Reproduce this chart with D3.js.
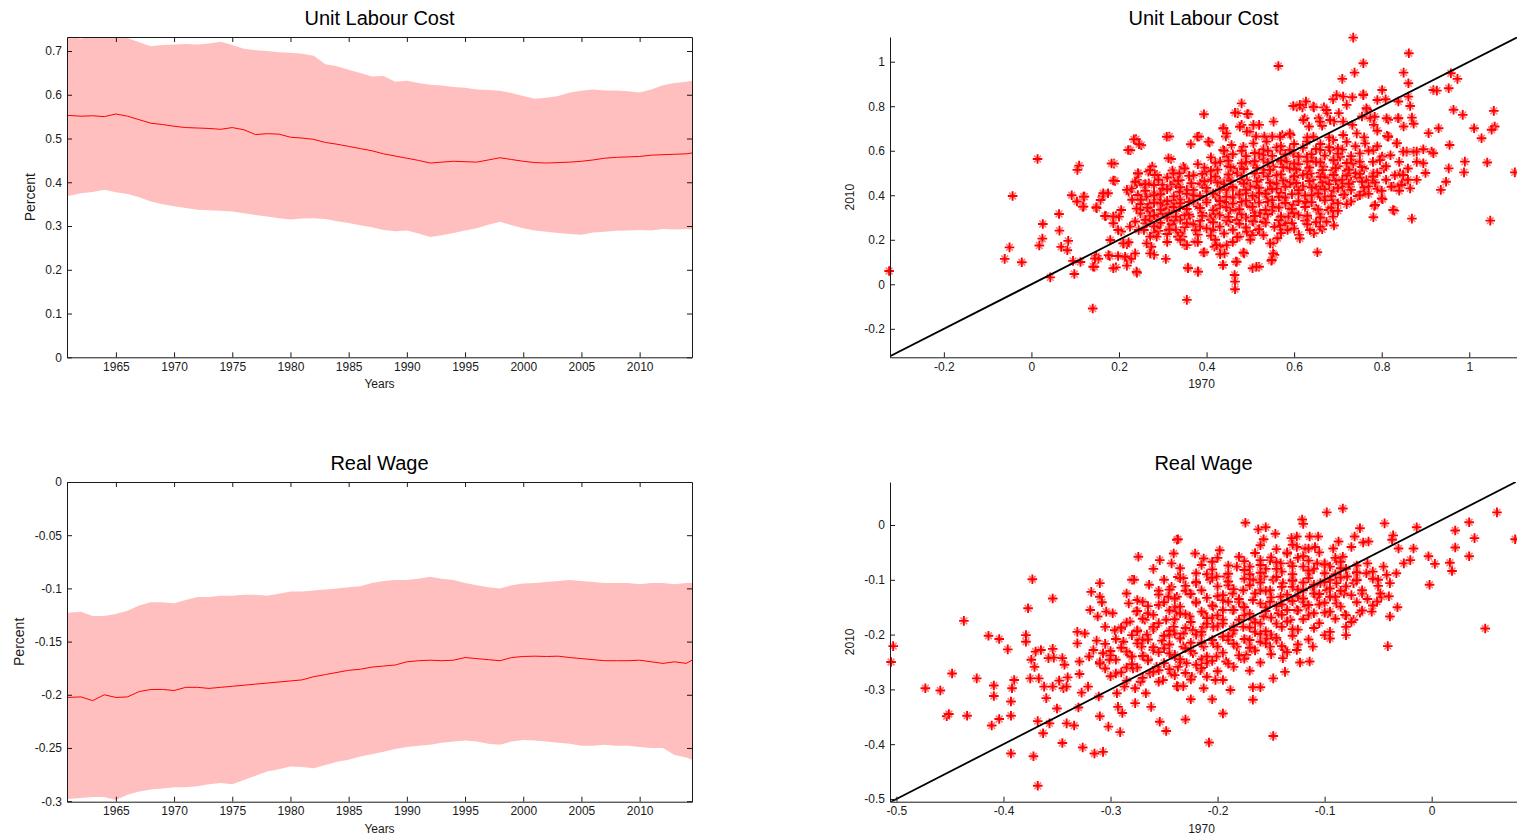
<!DOCTYPE html>
<html>
<head>
<meta charset="utf-8">
<script src="https://cdn.jsdelivr.net/npm/d3@7"></script>
<style>
  html, body { margin: 0; padding: 0; background: #fff; }
  svg { display: block; font-family: "Liberation Sans", Arial, sans-serif; }
  .tick text { fill: #1a1a1a; font-size: 12px; }
  .tick line, .domain { stroke: #1a1a1a; }
</style>
</head>
<body>
<svg id="fig" width="1517" height="840"></svg>
<script>
// ---- time series (years, mean and band limits) ----
const years = [1960.8,1962,1963,1964,1965,1966,1967,1968,1969,1970,1971,1972,1973,1974,1975,1976,1977,1978,1979,1980,1981,1982,1983,1984,1985,1986,1987,1988,1989,1990,1991,1992,1993,1994,1995,1996,1997,1998,1999,2000,2001,2002,2003,2004,2005,2006,2007,2008,2009,2010,2011,2012,2013,2014,2014.5];

const ulcUpper = [0.735,0.728,0.74,0.735,0.74,0.73,0.72,0.711,0.714,0.715,0.716,0.715,0.717,0.721,0.714,0.705,0.702,0.700,0.697,0.696,0.694,0.689,0.670,0.665,0.657,0.650,0.642,0.643,0.630,0.632,0.627,0.623,0.621,0.618,0.616,0.612,0.611,0.609,0.604,0.597,0.591,0.593,0.597,0.605,0.609,0.612,0.610,0.610,0.608,0.605,0.612,0.622,0.627,0.630,0.632];
const ulcLower = [0.368,0.375,0.378,0.383,0.377,0.373,0.366,0.356,0.350,0.345,0.341,0.337,0.336,0.335,0.333,0.329,0.325,0.322,0.318,0.315,0.317,0.318,0.316,0.311,0.307,0.302,0.297,0.291,0.288,0.290,0.283,0.275,0.279,0.284,0.290,0.295,0.303,0.310,0.302,0.295,0.290,0.287,0.284,0.282,0.280,0.285,0.287,0.289,0.290,0.291,0.290,0.293,0.292,0.293,0.292];
const ulcMean  = [0.553,0.551,0.552,0.550,0.556,0.551,0.543,0.535,0.532,0.528,0.525,0.524,0.523,0.521,0.525,0.520,0.509,0.511,0.510,0.503,0.501,0.498,0.491,0.487,0.482,0.477,0.472,0.465,0.460,0.455,0.450,0.444,0.446,0.448,0.447,0.446,0.451,0.456,0.452,0.448,0.445,0.444,0.445,0.446,0.448,0.451,0.455,0.457,0.458,0.459,0.462,0.463,0.464,0.465,0.467];

const rwUpper = [-0.123,-0.122,-0.126,-0.126,-0.124,-0.121,-0.116,-0.113,-0.113,-0.114,-0.111,-0.108,-0.108,-0.107,-0.107,-0.106,-0.106,-0.107,-0.105,-0.103,-0.103,-0.102,-0.101,-0.100,-0.099,-0.098,-0.095,-0.093,-0.092,-0.092,-0.091,-0.089,-0.091,-0.092,-0.095,-0.097,-0.099,-0.100,-0.097,-0.0955,-0.095,-0.094,-0.093,-0.092,-0.093,-0.094,-0.095,-0.095,-0.095,-0.096,-0.095,-0.095,-0.096,-0.095,-0.095];
const rwLower = [-0.298,-0.297,-0.296,-0.296,-0.299,-0.294,-0.291,-0.289,-0.288,-0.287,-0.287,-0.286,-0.284,-0.283,-0.284,-0.280,-0.276,-0.272,-0.270,-0.2675,-0.268,-0.269,-0.266,-0.263,-0.261,-0.258,-0.256,-0.2535,-0.251,-0.249,-0.248,-0.247,-0.245,-0.244,-0.243,-0.244,-0.246,-0.247,-0.244,-0.2425,-0.243,-0.244,-0.245,-0.246,-0.248,-0.248,-0.247,-0.248,-0.248,-0.249,-0.250,-0.250,-0.2565,-0.259,-0.261];
const rwMean  = [-0.2025,-0.202,-0.2055,-0.200,-0.2025,-0.202,-0.197,-0.195,-0.195,-0.196,-0.193,-0.193,-0.194,-0.193,-0.192,-0.191,-0.190,-0.189,-0.188,-0.187,-0.186,-0.183,-0.181,-0.179,-0.177,-0.176,-0.174,-0.173,-0.172,-0.169,-0.168,-0.1675,-0.168,-0.1675,-0.165,-0.166,-0.167,-0.168,-0.165,-0.164,-0.1637,-0.164,-0.1637,-0.165,-0.166,-0.167,-0.168,-0.168,-0.168,-0.1675,-0.169,-0.1705,-0.169,-0.1705,-0.1675];

// ---- tick values ----
const yearTicks = [1965,1970,1975,1980,1985,1990,1995,2000,2005,2010];
const ulcTicks = [0,0.1,0.2,0.3,0.4,0.5,0.6,0.7];
const rwTicks = [-0.3,-0.25,-0.2,-0.15,-0.1,-0.05,0];
const ulcScatterTicks = [-0.2,0,0.2,0.4,0.6,0.8,1];
const rwScatterTicks = [-0.5,-0.4,-0.3,-0.2,-0.1,0];

// ---- cross-section: 1970 value (x) against 2010 value (y) ----
const ulcScatter = [
[-0.325,0.06],[-0.043,0.397],[-0.05,0.166],[-0.061,0.114],[-0.022,0.099],[0.014,0.563],[0.026,0.271],[0.025,0.205],[0.018,0.174],[0.043,0.031],
[0.063,0.316],[0.064,0.241],[0.068,0.168],[0.084,0.195],[0.082,0.153],[0.092,0.40],[0.104,0.372],[0.109,0.533],[0.105,0.514],[0.121,0.394],
[0.117,0.349],[0.095,0.105],[0.098,0.046],[0.112,0.10],[0.14,-0.109],[0.144,0.079],[0.148,0.127],[0.153,0.115],[0.149,0.342],[0.158,0.379],
[0.163,0.398],[0.175,0.409],[0.17,0.307],[0.18,0.199],[0.179,0.127],[0.189,0.542],[0.191,0.464],[0.193,0.307],[0.2,0.304],[0.187,0.274],
[0.205,0.334],[0.205,0.237],[0.198,0.127],[0.193,0.076],[0.21,0.184],[0.218,0.18],[0.222,0.189],[0.218,0.115],[0.218,0.084],[0.228,0.114],
[0.226,0.602],[0.239,0.652],[0.251,0.625],[0.222,0.416],[0.229,0.431],[0.241,0.469],[0.243,0.499],[0.241,0.454],[0.243,0.401],[0.249,0.361],
[0.249,0.319],[0.237,0.282],[0.245,0.244],[0.257,0.244],[0.26,0.274],[0.267,0.506],[0.276,0.529],[0.268,0.454],[0.28,0.446],[0.287,0.491],
[0.299,0.446],[0.28,0.409],[0.287,0.379],[0.295,0.364],[0.271,0.334],[0.276,0.304],[0.28,0.229],[0.271,0.214],[0.274,0.169],[0.28,0.132],
[0.241,0.052],[0.307,0.114],[0.315,0.664],[0.319,0.563],[0.322,0.511],[0.326,0.461],[0.338,0.499],[0.307,0.349],[0.315,0.319],[0.322,0.274],
[0.33,0.244],[0.333,0.379],[0.338,0.416],[0.341,0.229],
[0.735,1.108],[0.862,1.038],[0.758,0.993],[0.564,0.981],[0.738,0.951],[0.71,0.923],[0.85,0.951],[0.861,0.903],[0.958,0.948],[0.973,0.923],
[0.953,0.881],[0.918,0.873],[0.926,0.87],[0.801,0.873],[0.758,0.854],[0.712,0.843],[0.733,0.84],[0.689,0.831],[0.79,0.828],[0.809,0.831],
[0.861,0.843],[0.838,0.821],[0.964,0.784],[0.985,0.761],[1.056,0.779],[1.011,0.701],[1.058,0.709],[1.051,0.694],[1.028,0.656],[1.104,0.503],
[0.99,0.551],[0.988,0.503],[1.041,0.547],[0.953,0.521],[0.955,0.626],[1.048,0.286],[0.93,0.701],[0.907,0.679],[0.873,0.721],[0.869,0.749],
[0.85,0.709],[0.865,0.801],[0.838,0.746],[0.815,0.739],[0.812,0.667],[0.835,0.634],[0.857,0.596],[0.873,0.596],[0.88,0.596],[0.895,0.607],
[0.914,0.596],[0.918,0.589],[0.895,0.544],[0.88,0.469],[0.865,0.431],[0.846,0.454],[0.842,0.499],[0.827,0.439],[0.801,0.574],[0.805,0.521],
[0.78,0.469],[0.947,0.461],[0.935,0.424],[0.802,0.382],[0.783,0.352],[0.829,0.331],[0.781,0.301],[0.869,0.295],[0.763,0.412],[0.815,0.664],
[0.653,0.144],[0.691,0.264],[0.689,0.331],[0.664,0.247],[0.645,0.229],[0.63,0.297],[0.611,0.222],[0.6,0.319],[0.58,0.274],[0.573,0.244],
[0.551,0.184],[0.555,0.132],[0.548,0.106],[0.52,0.079],[0.505,0.072],[0.486,0.139],[0.467,0.102],[0.464,0.042],[0.465,0.012],[0.465,-0.022],
[0.437,0.087],[0.441,0.139],[0.43,0.169],[0.418,0.169],[0.395,0.144],[0.38,0.057],[0.357,0.075],[0.355,-0.07],[0.35,0.177],[0.335,0.214],
[0.475,0.214],[0.498,0.229],[0.517,0.244],[0.532,0.289],[0.562,0.207],[0.394,0.764],[0.48,0.813],[0.496,0.764],[0.471,0.769],[0.52,0.716],
[0.439,0.701],[0.553,0.731],[0.383,0.664],[0.407,0.637],[0.444,0.664],[0.48,0.716],[0.498,0.686],[0.513,0.664],[0.532,0.664],[0.55,0.664],
[0.573,0.671],[0.592,0.671],[0.606,0.798],[0.619,0.795],[0.627,0.821],[0.645,0.795],[0.668,0.795],[0.676,0.769],[0.702,0.769],[0.656,0.746],
[0.624,0.746],[0.634,0.709],[0.664,0.712],[0.691,0.731],[0.712,0.731],[0.733,0.716],[0.755,0.754],[0.774,0.746],[0.767,0.784],[0.782,0.716],
[0.465,0.771],[0.493,0.765],[0.598,0.801],[0.758,0.85],[0.309,0.663],[0.234,0.651],[0.246,0.629],[0.221,0.603],[0.183,0.543],[0.187,0.466],
[0.313,0.566],[0.364,0.629],[0.379,0.663],[0.404,0.641],[0.438,0.701],[0.446,0.678],[0.826,0.334],[0.785,0.356],[0.8,0.386],[0.758,0.416],
[0.822,0.438],[0.845,0.446],[0.849,0.491],[0.849,0.596],[0.834,0.633],[0.815,0.663],[0.838,0.746],[0.811,0.746],[0.784,0.753],[0.765,0.791],
[0.72,0.806],[0.697,0.85],[0.674,0.783],[0.644,0.798],[0.613,0.806],[0.659,0.731],[0.682,0.738],[0.621,0.738],[0.59,0.678],[0.568,0.663],
[0.537,0.641],[0.507,0.716],[0.492,0.686],[0.476,0.708],[0.457,0.626],[0.438,0.603],[0.484,0.618],[0.507,0.633],[0.526,0.581],[0.568,0.603],
[0.598,0.588],[0.629,0.641],[0.644,0.663],[0.689,0.648],[0.712,0.671],[0.743,0.678],[0.762,0.633],[0.781,0.603],[0.796,0.558],[0.781,0.498],
[0.765,0.468],[0.727,0.438],[0.712,0.401],[0.689,0.378],[0.678,0.334],[0.689,0.304],[0.674,0.281],[0.659,0.259],[0.636,0.244],[0.613,0.206],
[0.587,0.304],[0.568,0.266],[0.545,0.184],[0.552,0.139],[0.549,0.109],[0.514,0.079],[0.469,0.101],[0.484,0.143],[0.438,0.087],[0.431,0.135],
[0.446,0.176],[0.423,0.176],[0.393,0.143],[0.381,0.057],[0.358,0.072],[0.374,0.191],[0.355,0.176],[0.335,0.214],[0.313,0.244],[0.286,0.214],
[0.271,0.139],[0.263,0.184],[0.237,0.139],[0.24,0.057],[0.214,0.124],[0.187,0.072],[0.176,0.131],[0.145,0.116],[0.141,0.079],[0.21,0.184],
[0.198,0.244],[0.187,0.304],[0.168,0.307],[0.148,0.346],[0.164,0.409],[0.119,0.394],[0.119,0.349],[0.218,0.424],[0.237,0.461],[0.244,0.498],
[0.271,0.513],[0.282,0.491],[0.256,0.446],[0.263,0.394],[0.248,0.334],[0.225,0.259],[0.263,0.274],[0.286,0.304],[0.305,0.364],[0.294,0.409],
[0.317,0.438],[0.324,0.498],[0.347,0.528],[0.339,0.468],[0.355,0.424],[0.339,0.349],[0.362,0.304],[0.385,0.259],[0.415,0.244],[0.408,0.304],
[0.4,0.379],[0.385,0.453],[0.4,0.506],[0.431,0.551],[0.446,0.573],[0.461,0.521],[0.431,0.461],[0.446,0.424],[0.431,0.356],[0.454,0.334],
[0.469,0.289],[0.492,0.236],[0.507,0.281],[0.522,0.319],[0.492,0.364],[0.476,0.409],[0.492,0.468],[0.484,0.528],[0.507,0.543],[0.53,0.513],
[0.514,0.438],[0.537,0.394],[0.552,0.349],[0.575,0.379],[0.56,0.453],[0.552,0.528],[0.583,0.551],[0.606,0.513],[0.591,0.453],[0.613,0.424],
[0.598,0.356],[0.629,0.364],[0.644,0.438],[0.636,0.498],[0.644,0.558],[0.667,0.528],[0.674,0.468],[0.689,0.513],[0.705,0.573],[0.682,0.603],
[0.659,0.603],[0.629,0.573],[0.72,0.498],[0.735,0.543],[0.75,0.588],[0.743,0.483],[0.705,0.453],[0.659,0.394],
[0.40,0.42],[0.42,0.40],[0.44,0.45],[0.46,0.43],[0.48,0.46],[0.50,0.44],[0.52,0.47],[0.54,0.42],[0.56,0.49],[0.58,0.46],
[0.60,0.48],[0.62,0.44],[0.64,0.47],[0.66,0.50],[0.68,0.45],[0.45,0.48],[0.47,0.50],[0.49,0.41],[0.51,0.39],[0.53,0.50],
[0.55,0.45],[0.57,0.41],[0.59,0.52],[0.61,0.41],[0.63,0.51],[0.65,0.43],[0.67,0.48],[0.69,0.49],[0.71,0.47],[0.41,0.47],
[0.43,0.38],[0.39,0.45],[0.37,0.40],[0.36,0.37],[0.38,0.35],[0.34,0.38],[0.33,0.33],[0.35,0.31],[0.32,0.36],[0.30,0.34],
[0.31,0.30],[0.29,0.27],[0.28,0.31],[0.27,0.36],[0.42,0.34],[0.44,0.37],[0.46,0.39],[0.48,0.37],[0.50,0.35],[0.52,0.41],
[0.54,0.37],[0.56,0.43],[0.58,0.39],[0.60,0.45],[0.62,0.49],[0.64,0.40],[0.66,0.44],[0.70,0.53],[0.72,0.51],[0.74,0.50],
[0.76,0.52],[0.78,0.55],[0.73,0.56],[0.69,0.56],[0.65,0.55],[0.61,0.54],[0.57,0.55],[0.53,0.56],[0.49,0.55],[0.45,0.53],
[0.41,0.51],[0.37,0.49],[0.33,0.45],[0.30,0.43],[0.28,0.40],[0.26,0.42],[0.25,0.38],[0.27,0.33],[0.29,0.24],[0.32,0.27],
[0.34,0.29],[0.37,0.27],[0.39,0.32],[0.41,0.29],[0.43,0.31],[0.45,0.28],[0.47,0.33],[0.49,0.30],[0.51,0.32],[0.53,0.28],
[0.55,0.33],[0.57,0.30],[0.59,0.34],[0.61,0.31],[0.63,0.37],[0.65,0.34],[0.67,0.39],[0.69,0.42],[0.71,0.44],[0.73,0.46],
[0.75,0.48],[0.77,0.44],[0.79,0.50],[0.81,0.47],
[0.31,0.226],[0.345,0.214],[0.38,0.223],[0.41,0.218],[0.44,0.228],[0.47,0.212],[0.505,0.221],
[0.285,0.254],[0.315,0.246],[0.35,0.257],[0.375,0.243],[0.40,0.251],[0.43,0.259],[0.46,0.245],[0.49,0.255],[0.52,0.248],[0.555,0.258],[0.585,0.244],
[0.265,0.283],[0.295,0.276],[0.325,0.288],[0.355,0.274],[0.385,0.285],[0.415,0.279],[0.445,0.287],[0.475,0.272],[0.505,0.284],[0.535,0.277],[0.565,0.289],[0.595,0.275],[0.625,0.286],[0.65,0.279],
[0.27,0.306],[0.30,0.317],[0.33,0.304],[0.36,0.313],[0.39,0.308],[0.42,0.318],[0.45,0.303],[0.48,0.314],[0.51,0.307],[0.54,0.316],[0.57,0.305],[0.60,0.319],[0.63,0.308],[0.66,0.314],
[0.265,0.344],[0.295,0.335],[0.325,0.347],[0.355,0.338],[0.385,0.343],[0.415,0.333],[0.445,0.346],[0.475,0.337],[0.505,0.348],[0.535,0.334],[0.565,0.345],[0.595,0.339],[0.625,0.347],[0.655,0.336],[0.685,0.344],
[0.28,0.366],[0.31,0.375],[0.34,0.364],[0.37,0.377],[0.40,0.368],[0.43,0.374],[0.46,0.363],[0.49,0.376],[0.52,0.367],[0.55,0.378],[0.58,0.365],[0.61,0.373],[0.64,0.369],[0.67,0.377],[0.70,0.364],[0.73,0.372],
[0.295,0.404],[0.325,0.395],[0.355,0.406],[0.385,0.397],[0.415,0.408],[0.445,0.394],[0.475,0.403],[0.505,0.398],[0.535,0.407],[0.565,0.393],[0.595,0.405],[0.625,0.399],[0.655,0.408],[0.685,0.396],[0.715,0.404],[0.745,0.397],[0.77,0.406],
[0.31,0.427],[0.34,0.436],[0.37,0.424],[0.40,0.433],[0.43,0.426],[0.46,0.437],[0.49,0.425],[0.52,0.434],[0.55,0.428],[0.58,0.438],[0.61,0.423],[0.64,0.435],[0.67,0.427],[0.70,0.433],[0.73,0.424],[0.76,0.436],[0.79,0.429],
[0.335,0.465],[0.365,0.454],[0.395,0.463],[0.425,0.457],[0.455,0.466],[0.485,0.453],[0.515,0.462],[0.545,0.456],[0.575,0.467],[0.605,0.455],[0.635,0.464],[0.665,0.458],[0.695,0.466],[0.725,0.452],[0.755,0.461],[0.785,0.457],
[0.36,0.487],[0.39,0.496],[0.42,0.484],[0.45,0.493],[0.48,0.488],[0.51,0.497],[0.54,0.485],[0.57,0.494],[0.60,0.486],[0.63,0.495],[0.66,0.483],[0.69,0.492],[0.72,0.489],[0.75,0.496],[0.78,0.484],
[0.395,0.524],[0.425,0.515],[0.455,0.527],[0.485,0.518],[0.515,0.523],[0.545,0.514],[0.575,0.526],[0.605,0.517],[0.635,0.525],[0.665,0.513],[0.695,0.522],[0.725,0.516],[0.755,0.527],
[0.42,0.546],[0.45,0.555],[0.48,0.544],[0.51,0.553],[0.54,0.547],[0.57,0.556],[0.60,0.543],[0.63,0.552],[0.66,0.548],[0.69,0.557],[0.72,0.545],[0.75,0.551],
[0.46,0.584],[0.49,0.575],[0.52,0.586],[0.55,0.577],[0.58,0.583],[0.61,0.574],[0.64,0.585],[0.67,0.578],[0.70,0.587],[0.73,0.576],
[0.53,0.607],[0.56,0.615],[0.59,0.604],[0.62,0.613],[0.65,0.608],[0.68,0.616],[0.71,0.605],
[0.79,0.62],[0.82,0.58],[0.84,0.55],[0.86,0.52],[0.83,0.49],[0.81,0.53],[0.77,0.60],[0.74,0.62],[0.76,0.66],[0.79,0.69],
[0.72,0.64],[0.70,0.61],[0.68,0.66],[0.66,0.63],[0.63,0.66],[0.60,0.63],[0.57,0.62],[0.54,0.60],[0.51,0.59],[0.48,0.60],
[0.88,0.55],[0.90,0.50],[0.86,0.47],[0.84,0.42],[0.80,0.42],[0.75,0.40],[0.72,0.36],[0.70,0.33],[0.66,0.30],[0.63,0.27],
[0.60,0.25],[0.57,0.23],[0.53,0.22],[0.50,0.20],[0.46,0.19],[0.42,0.20],[0.38,0.19],[0.34,0.20],[0.31,0.19],[0.28,0.26],
[0.26,0.29],[0.24,0.34],[0.23,0.38],[0.26,0.45],[0.29,0.47],[0.31,0.48],[0.35,0.52],[0.38,0.54],[0.41,0.57],[0.44,0.60]
];

const rwScatter = [
[-0.505,-0.25],[-0.503,-0.221],[-0.473,-0.298],[-0.459,-0.302],[-0.453,-0.349],[-0.451,-0.345],[-0.448,-0.271],[-0.437,-0.175],[-0.434,-0.348],[-0.425,-0.28],
[-0.414,-0.202],[-0.411,-0.366],[-0.409,-0.293],[-0.409,-0.312],[-0.404,-0.208],[-0.404,-0.354],[-0.396,-0.227],[-0.393,-0.417],[-0.393,-0.348],[-0.393,-0.322],
[-0.392,-0.298],[-0.39,-0.283],[-0.379,-0.201],[-0.379,-0.213],[-0.377,-0.152],[-0.375,-0.28],[-0.373,-0.099],[-0.372,-0.422],[-0.368,-0.476],[-0.368,-0.358],
[-0.374,-0.246],[-0.371,-0.259],[-0.37,-0.231],[-0.367,-0.28],[-0.365,-0.228],[-0.363,-0.38],[-0.362,-0.295],[-0.36,-0.316],[-0.357,-0.362],[-0.358,-0.243],
[-0.354,-0.226],[-0.354,-0.134],[-0.354,-0.295],[-0.353,-0.242],[-0.35,-0.335],[-0.348,-0.284],[-0.345,-0.398],[-0.345,-0.243],[-0.344,-0.298],[-0.343,-0.255],
[-0.341,-0.362],[-0.341,-0.295],[-0.34,-0.278],[-0.334,-0.366],[-0.331,-0.195],[-0.331,-0.216],[-0.33,-0.333],[-0.329,-0.249],[-0.329,-0.272],[-0.327,-0.306],
[-0.326,-0.406],[-0.324,-0.198],[-0.321,-0.295],[-0.319,-0.155],[-0.318,-0.122],[-0.316,-0.228],[-0.315,-0.417],[-0.313,-0.211],[-0.312,-0.167],[-0.31,-0.106],
[-0.31,-0.131],[-0.308,-0.141],[-0.307,-0.414],[-0.31,-0.349],[-0.311,-0.313],[-0.307,-0.234],[-0.305,-0.186],[-0.304,-0.158],[-0.302,-0.368],[-0.301,-0.246],
[-0.298,-0.161],[-0.296,-0.192],[-0.295,-0.271],[-0.294,-0.307],[-0.293,-0.332],[-0.291,-0.378],[-0.289,-0.343],[-0.288,-0.213],[-0.287,-0.295],[-0.285,-0.125],
[-0.283,-0.143],[-0.282,-0.237],[-0.282,-0.176],[-0.28,-0.1],[-0.279,-0.262],[-0.278,-0.1],[-0.277,-0.298],[-0.277,-0.325],[-0.276,-0.158],[-0.275,-0.137],
[-0.275,-0.192],[-0.274,-0.058],[-0.273,-0.21],[-0.272,-0.286],[-0.271,-0.222],[-0.269,-0.24],[-0.268,-0.173],[-0.267,-0.307],[-0.266,-0.2],[-0.265,-0.161],
[-0.264,-0.109],[-0.263,-0.271],[-0.262,-0.332],[-0.26,-0.228],[-0.259,-0.186],[-0.257,-0.259],[-0.255,-0.146],[-0.254,-0.064],[-0.254,-0.359],[-0.252,-0.211],
[-0.251,-0.283],[-0.248,-0.376],[-0.248,-0.173],[-0.246,-0.131],[-0.245,-0.234],[-0.243,-0.07],[-0.241,-0.052],[-0.24,-0.198],[-0.238,-0.027],[-0.238,-0.158],
[-0.237,-0.295],[-0.237,-0.259],
[-0.237,-0.026],[-0.243,-0.113],[-0.221,-0.052],[-0.213,-0.061],[-0.215,-0.073],[-0.198,-0.046],[-0.235,-0.079],[-0.237,-0.095],[-0.232,-0.097],[-0.174,0.004],
[-0.162,-0.008],[-0.155,-0.004],[-0.157,-0.026],[-0.146,-0.016],[-0.098,0.023],[-0.083,0.03],[-0.121,0.01],[-0.12,0.002],[-0.044,0.003],[-0.036,-0.019],
[-0.014,-0.004],[-0.067,-0.006],[-0.064,-0.032],[-0.059,-0.03],[-0.072,-0.021],[-0.087,-0.03],[-0.106,-0.021],[-0.114,-0.021],[-0.126,-0.021],[-0.131,-0.024],
[-0.126,-0.04],[-0.118,-0.043],[-0.109,-0.04],[-0.092,-0.043],[-0.083,-0.058],[-0.075,-0.04],[-0.037,-0.027],[-0.031,-0.043],[-0.017,-0.043],[-0.003,-0.057],
[0.003,-0.071],[0.017,-0.069],[0.022,-0.01],[0.022,-0.041],[0.019,-0.084],[0.035,0.005],[0.061,0.023],[0.04,-0.024],[0.035,-0.057],[0.078,-0.026],
[-0.002,-0.109],[0.05,-0.189],[-0.041,-0.221],[-0.032,-0.15],[-0.039,-0.167],[-0.04,-0.13],[-0.047,-0.131],[-0.051,-0.14],[-0.056,-0.158],[-0.067,-0.16],
[-0.073,-0.173],[-0.081,-0.164],[-0.08,-0.201],[-0.095,-0.207],[-0.097,-0.161],[-0.111,-0.222],[-0.114,-0.249],[-0.123,-0.251],[-0.126,-0.228],[-0.137,-0.228],
[-0.139,-0.243],[-0.137,-0.268],[-0.148,-0.28],[-0.148,-0.385],[-0.16,-0.296],[-0.167,-0.296],[-0.167,-0.319],[-0.188,-0.301],[-0.195,-0.344],[-0.205,-0.318],
[-0.208,-0.397],[-0.202,-0.283],[-0.213,-0.298],[-0.225,-0.318],[-0.23,-0.355],[-0.232,-0.294],[-0.238,-0.294],[-0.243,-0.271],[-0.224,-0.277],[-0.216,-0.265],
[-0.195,-0.283],[-0.192,-0.249],[-0.178,-0.243],[-0.173,-0.237],[-0.168,-0.225],[-0.151,-0.222],[-0.145,-0.21],[-0.154,-0.207],[-0.16,-0.213],[-0.151,-0.14],
[-0.143,-0.161],[-0.132,-0.173],[-0.126,-0.155],[-0.117,-0.149],[-0.107,-0.131],[-0.098,-0.119],[-0.089,-0.106],[-0.079,-0.094],[-0.07,-0.088],[-0.061,-0.088],
[-0.055,-0.085],[-0.045,-0.076],[-0.042,-0.091],[-0.033,-0.088],[-0.026,-0.07],[-0.02,-0.064],[-0.039,-0.106],[-0.048,-0.125],[-0.065,-0.125],[-0.073,-0.106],
[-0.082,-0.125],[-0.089,-0.143],[-0.095,-0.131],[-0.104,-0.106],[-0.114,-0.088],[-0.12,-0.076],[-0.107,-0.07],[-0.095,-0.076],[-0.089,-0.064],[-0.132,-0.07],
[-0.141,-0.07],[-0.151,-0.064],[-0.16,-0.064],[-0.17,-0.076],[-0.182,-0.076],[-0.192,-0.094],[-0.201,-0.094],[-0.207,-0.1],[-0.22,-0.106],[-0.226,-0.125],
[-0.238,-0.131],[-0.235,-0.161],[-0.226,-0.167],[-0.213,-0.161],[-0.204,-0.149],[-0.195,-0.137],[-0.186,-0.125],[-0.176,-0.119],[-0.167,-0.1],[-0.157,-0.094],
[-0.148,-0.1],[-0.139,-0.106],[-0.13,-0.113],[-0.12,-0.119],[-0.111,-0.113],[-0.16,-0.119],[-0.151,-0.119],[-0.141,-0.131],[-0.132,-0.137],[-0.167,-0.137],
[-0.176,-0.149],[-0.186,-0.155],[-0.195,-0.173],[-0.204,-0.186],[-0.213,-0.186],[-0.223,-0.192],[-0.232,-0.198],[-0.241,-0.186],[-0.232,-0.222],[-0.223,-0.234],
[-0.213,-0.222],[-0.204,-0.216],[-0.195,-0.204],[-0.186,-0.198],[-0.176,-0.186],[-0.167,-0.173],[-0.157,-0.167],[-0.201,-0.24],[-0.21,-0.252],[-0.182,-0.222],
[-0.173,-0.21],[-0.24,-0.24],[-0.229,-0.252],
[-0.215,-0.2],[-0.205,-0.17],[-0.195,-0.155],[-0.185,-0.185],[-0.175,-0.165],[-0.165,-0.195],[-0.155,-0.15],[-0.145,-0.18],[-0.135,-0.155],[-0.125,-0.13],
[-0.115,-0.165],[-0.105,-0.145],[-0.095,-0.1],[-0.085,-0.12],[-0.2,-0.13],[-0.19,-0.21],[-0.18,-0.14],[-0.17,-0.21],[-0.16,-0.18],[-0.15,-0.2],
[-0.14,-0.145],[-0.13,-0.19],[-0.12,-0.14],[-0.11,-0.125],[-0.1,-0.16],[-0.09,-0.09],[-0.08,-0.08],[-0.07,-0.1],[-0.06,-0.07],[-0.05,-0.1],
[-0.225,-0.215],[-0.215,-0.245],[-0.21,-0.18],[-0.245,-0.2],[-0.25,-0.225],[-0.26,-0.19],[-0.27,-0.21],[-0.28,-0.24],[-0.29,-0.19],[-0.3,-0.23],
[-0.31,-0.25],[-0.32,-0.24],[-0.285,-0.26],[-0.265,-0.245],[-0.255,-0.265],[-0.235,-0.25],[-0.22,-0.14],[-0.23,-0.12],[-0.24,-0.15],[-0.19,-0.11],
[-0.17,-0.09],[-0.16,-0.1],[-0.14,-0.085],[-0.13,-0.1],[-0.12,-0.105],[-0.11,-0.08],[-0.1,-0.07],[-0.135,-0.05],[-0.125,-0.06],[-0.155,-0.08],
[-0.2,-0.06],[-0.21,-0.09],[-0.255,-0.12],[-0.27,-0.14],[-0.25,-0.1],[-0.26,-0.08],
[-0.30,-0.276],[-0.285,-0.284],[-0.27,-0.279],[-0.255,-0.286],[-0.24,-0.274],[-0.225,-0.282],[-0.21,-0.277],
[-0.305,-0.262],[-0.29,-0.269],[-0.275,-0.26],[-0.26,-0.268],[-0.245,-0.263],[-0.23,-0.27],[-0.215,-0.261],[-0.20,-0.267],[-0.185,-0.259],[-0.17,-0.266],
[-0.31,-0.253],[-0.295,-0.246],[-0.28,-0.254],[-0.265,-0.247],[-0.25,-0.252],[-0.235,-0.245],[-0.22,-0.255],[-0.205,-0.248],[-0.19,-0.253],[-0.175,-0.244],[-0.16,-0.251],
[-0.30,-0.238],[-0.285,-0.231],[-0.27,-0.239],[-0.255,-0.232],[-0.24,-0.237],[-0.225,-0.23],[-0.21,-0.24],[-0.195,-0.233],[-0.18,-0.238],[-0.165,-0.229],[-0.15,-0.236],[-0.135,-0.232],
[-0.305,-0.217],[-0.29,-0.224],[-0.275,-0.216],[-0.26,-0.223],[-0.245,-0.218],[-0.23,-0.225],[-0.215,-0.215],[-0.20,-0.222],[-0.185,-0.217],[-0.17,-0.224],[-0.155,-0.216],[-0.14,-0.221],[-0.125,-0.218],
[-0.295,-0.208],[-0.28,-0.201],[-0.265,-0.209],[-0.25,-0.202],[-0.235,-0.207],[-0.22,-0.2],[-0.205,-0.21],[-0.19,-0.203],[-0.175,-0.208],[-0.16,-0.199],[-0.145,-0.206],[-0.13,-0.202],[-0.115,-0.209],[-0.10,-0.201],
[-0.29,-0.187],[-0.275,-0.194],[-0.26,-0.186],[-0.245,-0.193],[-0.23,-0.188],[-0.215,-0.195],[-0.20,-0.185],[-0.185,-0.192],[-0.17,-0.187],[-0.155,-0.194],[-0.14,-0.186],[-0.125,-0.191],[-0.11,-0.188],[-0.095,-0.195],[-0.08,-0.186],
[-0.285,-0.178],[-0.27,-0.171],[-0.255,-0.179],[-0.24,-0.172],[-0.225,-0.177],[-0.21,-0.17],[-0.195,-0.18],[-0.18,-0.173],[-0.165,-0.178],[-0.15,-0.169],[-0.135,-0.176],[-0.12,-0.172],[-0.105,-0.179],[-0.09,-0.171],[-0.075,-0.177],
[-0.275,-0.157],[-0.26,-0.164],[-0.245,-0.156],[-0.23,-0.163],[-0.215,-0.158],[-0.20,-0.165],[-0.185,-0.155],[-0.17,-0.162],[-0.155,-0.157],[-0.14,-0.164],[-0.125,-0.156],[-0.11,-0.161],[-0.095,-0.158],[-0.08,-0.165],[-0.065,-0.156],
[-0.265,-0.148],[-0.25,-0.141],[-0.235,-0.149],[-0.22,-0.142],[-0.205,-0.147],[-0.19,-0.14],[-0.175,-0.15],[-0.16,-0.143],[-0.145,-0.148],[-0.13,-0.139],[-0.115,-0.146],[-0.10,-0.142],[-0.085,-0.149],[-0.07,-0.141],[-0.055,-0.147],
[-0.255,-0.127],[-0.24,-0.134],[-0.225,-0.126],[-0.21,-0.133],[-0.195,-0.128],[-0.18,-0.135],[-0.165,-0.125],[-0.15,-0.132],[-0.135,-0.127],[-0.12,-0.134],[-0.105,-0.126],[-0.09,-0.131],[-0.075,-0.128],[-0.06,-0.135],
[-0.245,-0.118],[-0.23,-0.111],[-0.215,-0.119],[-0.20,-0.112],[-0.185,-0.117],[-0.17,-0.11],[-0.155,-0.12],[-0.14,-0.113],[-0.125,-0.118],[-0.11,-0.109],[-0.095,-0.116],[-0.08,-0.112],[-0.065,-0.119],[-0.05,-0.111],
[-0.235,-0.097],[-0.22,-0.104],[-0.205,-0.096],[-0.19,-0.103],[-0.175,-0.098],[-0.16,-0.105],[-0.145,-0.095],[-0.13,-0.102],[-0.115,-0.097],[-0.10,-0.104],[-0.085,-0.096],[-0.07,-0.101],[-0.055,-0.098],
[-0.22,-0.088],[-0.205,-0.081],[-0.19,-0.089],[-0.175,-0.082],[-0.16,-0.087],[-0.145,-0.08],[-0.13,-0.09],[-0.115,-0.083],[-0.10,-0.088],[-0.085,-0.079],[-0.07,-0.086],
[-0.205,-0.067],[-0.19,-0.074],[-0.175,-0.066],[-0.16,-0.073],[-0.145,-0.068],[-0.13,-0.075],[-0.115,-0.065],[-0.10,-0.072],[-0.085,-0.067],[-0.07,-0.074],
[-0.18,-0.058],[-0.165,-0.051],[-0.15,-0.059],[-0.135,-0.052],[-0.12,-0.057],[-0.105,-0.05],[-0.09,-0.06],
[-0.16,-0.037],[-0.145,-0.044],[-0.13,-0.036],[-0.115,-0.043]
];

// ---- layout ----
const svg = d3.select("#fig");
svg.append("rect").attr("width", 1517).attr("height", 840).attr("fill", "#fff");

const panels = {
  ulcBand:    {x0: 67,  x1: 692,  y0: 37,  y1: 357.3},
  ulcScatter: {x0: 890, x1: 1517, y0: 37,  y1: 357.3},
  rwBand:     {x0: 67,  x1: 692,  y0: 482, y1: 801.7},
  rwScatter:  {x0: 890, x1: 1517, y0: 482, y1: 801.7}
};

const fmt = d => String(Math.round(d * 100) / 100);
const FONT = '"Liberation Sans", Arial, sans-serif';
let clipId = 0;

function addClip(p) {
  const id = "clip" + (clipId++);
  svg.append("clipPath").attr("id", id).append("rect")
    .attr("x", p.x0).attr("y", p.y0).attr("width", p.x1 - p.x0).attr("height", p.y1 - p.y0);
  return "url(#" + id + ")";
}

function title(p, text) {
  svg.append("text").attr("x", (p.x0 + p.x1) / 2).attr("y", p.y0 - 12)
    .attr("text-anchor", "middle").attr("font-size", 20).attr("fill", "#000")
    .attr("font-family", FONT).text(text);
}

function drawAxes(p, x, y, xTicks, yTicks, boxed, xFmt, yFmt) {
  const g = svg.append("g");
  g.append("g").attr("transform", `translate(0,${p.y1})`)
    .call(d3.axisBottom(x).tickValues(xTicks).tickFormat(xFmt).tickSizeInner(-5).tickSizeOuter(0).tickPadding(5));
  g.append("g").attr("transform", `translate(${p.x0},0)`)
    .call(d3.axisLeft(y).tickValues(yTicks).tickFormat(yFmt).tickSizeInner(-5).tickSizeOuter(0).tickPadding(5));
  if (boxed) {
    g.append("g").attr("transform", `translate(0,${p.y0})`)
      .call(d3.axisTop(x).tickValues(xTicks).tickFormat("").tickSizeInner(-5).tickSizeOuter(0));
    g.append("g").attr("transform", `translate(${p.x1},0)`)
      .call(d3.axisRight(y).tickValues(yTicks).tickFormat("").tickSizeInner(-5).tickSizeOuter(0));
  }
  g.selectAll(".tick text").attr("font-family", FONT);
  return g;
}

// ---- band panels ----
function bandPanel(p, yDomain, yTicks, upper, lower, mean, name, percentX) {
  const x = d3.scaleLinear().domain([1960.8, 2014.5]).range([p.x0, p.x1]);
  const y = d3.scaleLinear().domain(yDomain).range([p.y1, p.y0]);
  const rows = years.map((yr, i) => ({yr, hi: upper[i], lo: lower[i], m: mean[i]}));
  const clip = addClip(p);
  svg.append("path").datum(rows).attr("clip-path", clip)
    .attr("fill", "#ffbfbf").attr("stroke", "none")
    .attr("d", d3.area().x(d => x(d.yr)).y0(d => y(d.lo)).y1(d => y(d.hi)));
  svg.append("path").datum(rows).attr("clip-path", clip)
    .attr("fill", "none").attr("stroke", "#ff0000").attr("stroke-width", 1)
    .attr("d", d3.line().x(d => x(d.yr)).y(d => y(d.m)));
  drawAxes(p, x, y, yearTicks, yTicks, true, d3.format("d"), fmt);
  title(p, name);
  svg.append("text").attr("x", (p.x0 + p.x1) / 2).attr("y", p.y1 + 31)
    .attr("text-anchor", "middle").attr("font-size", 12).attr("font-family", FONT).attr("fill", "#1a1a1a").text("Years");
  const cy = (p.y0 + p.y1) / 2;
  svg.append("text").attr("transform", `translate(${percentX},${cy}) rotate(-90)`)
    .attr("text-anchor", "middle").attr("font-size", 14).attr("font-family", FONT).attr("fill", "#1a1a1a").text("Percent");
}

// ---- scatter panels: '*' markers (light diagonals under a bold plus) ----
const starDiag = "M-3.4,-3.4L3.4,3.4M-3.4,3.4L3.4,-3.4";
const starPlus = "M-4.8,0H4.8M0,-4.8V4.8";

function scatterPanel(p, xDomain, yDomain, ticksX, ticksY, pts, name) {
  const x = d3.scaleLinear().domain(xDomain).range([p.x0, p.x1]);
  const y = d3.scaleLinear().domain(yDomain).range([p.y1, p.y0]);
  const marks = svg.append("g").selectAll("g").data(pts).join("g")
    .attr("transform", d => `translate(${x(d[0])},${y(d[1])})`);
  marks.append("path").attr("d", starDiag).attr("fill", "none").attr("stroke", "#ff7a7a").attr("stroke-width", 1.6);
  marks.append("path").attr("d", starPlus).attr("fill", "none").attr("stroke", "#ff0000").attr("stroke-width", 1.9);
  const lo = Math.max(xDomain[0], yDomain[0]), hi = Math.min(xDomain[1], yDomain[1]);
  svg.append("line").attr("clip-path", addClip(p))
    .attr("x1", x(lo)).attr("y1", y(lo)).attr("x2", x(hi)).attr("y2", y(hi))
    .attr("stroke", "#000").attr("stroke-width", 1.8);
  drawAxes(p, x, y, ticksX, ticksY, false, fmt, fmt);
  title(p, name);
  svg.append("text").attr("x", (p.x0 + p.x1) / 2 - 2).attr("y", p.y1 + 31)
    .attr("text-anchor", "middle").attr("font-size", 12).attr("font-family", FONT).attr("fill", "#1a1a1a").text("1970");
  const cy = (p.y0 + p.y1) / 2;
  svg.append("text").attr("transform", `translate(${p.x0 - 36},${cy}) rotate(-90)`)
    .attr("text-anchor", "middle").attr("font-size", 12).attr("font-family", FONT).attr("fill", "#1a1a1a").text("2010");
}

bandPanel(panels.ulcBand, [0, 0.732], ulcTicks, ulcUpper, ulcLower, ulcMean, "Unit Labour Cost", 35);
bandPanel(panels.rwBand, [-0.3005, 0], rwTicks, rwUpper, rwLower, rwMean, "Real Wage", 24);
scatterPanel(panels.ulcScatter, [-0.323, 1.109], [-0.328, 1.111], ulcScatterTicks, ulcScatterTicks, ulcScatter, "Unit Labour Cost");
scatterPanel(panels.rwScatter, [-0.506, 0.0797], [-0.505, 0.0785], rwScatterTicks, rwScatterTicks, rwScatter, "Real Wage");
</script>
</body>
</html>
